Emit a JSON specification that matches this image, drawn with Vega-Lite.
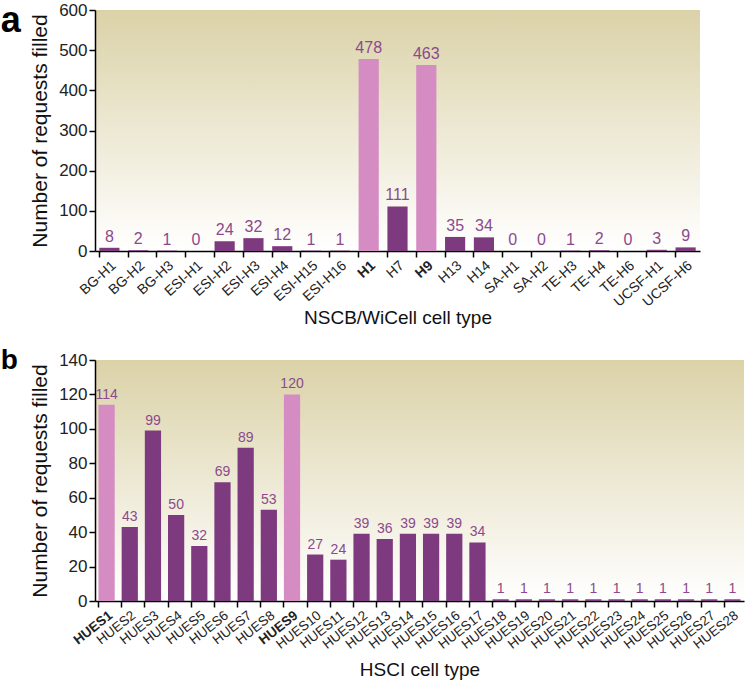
{
  "$schema": "https://vega.github.io/schema/vega-lite/v6.json",
  "padding": {"left": 0, "top": 1, "right": 4, "bottom": 1},
  "spacing": 19,
  "config": {
    "font": "Liberation Sans",
    "view": {"stroke": null},
    "axis": {"grid": false, "domainColor": "#000", "tickColor": "#000", "domainWidth": 1.5, "tickWidth": 1.5, "labelColor": "#222", "titleColor": "#111", "titleFontWeight": "normal"}
  },
  "datasets": {
    "nscb": [
      {"cell": "BG-H1", "n": 8}, {"cell": "BG-H2", "n": 2}, {"cell": "BG-H3", "n": 1},
      {"cell": "ESI-H1", "n": 0}, {"cell": "ESI-H2", "n": 24}, {"cell": "ESI-H3", "n": 32},
      {"cell": "ESI-H4", "n": 12}, {"cell": "ESI-H15", "n": 1}, {"cell": "ESI-H16", "n": 1},
      {"cell": "H1", "n": 478}, {"cell": "H7", "n": 111}, {"cell": "H9", "n": 463},
      {"cell": "H13", "n": 35}, {"cell": "H14", "n": 34}, {"cell": "SA-H1", "n": 0},
      {"cell": "SA-H2", "n": 0}, {"cell": "TE-H3", "n": 1}, {"cell": "TE-H4", "n": 2},
      {"cell": "TE-H6", "n": 0}, {"cell": "UCSF-H1", "n": 3}, {"cell": "UCSF-H6", "n": 9}
    ],
    "hsci": [
      {"cell": "HUES1", "n": 114}, {"cell": "HUES2", "n": 43}, {"cell": "HUES3", "n": 99},
      {"cell": "HUES4", "n": 50}, {"cell": "HUES5", "n": 32}, {"cell": "HUES6", "n": 69},
      {"cell": "HUES7", "n": 89}, {"cell": "HUES8", "n": 53}, {"cell": "HUES9", "n": 120},
      {"cell": "HUES10", "n": 27}, {"cell": "HUES11", "n": 24}, {"cell": "HUES12", "n": 39},
      {"cell": "HUES13", "n": 36}, {"cell": "HUES14", "n": 39}, {"cell": "HUES15", "n": 39},
      {"cell": "HUES16", "n": 39}, {"cell": "HUES17", "n": 34}, {"cell": "HUES18", "n": 1},
      {"cell": "HUES19", "n": 1}, {"cell": "HUES20", "n": 1}, {"cell": "HUES21", "n": 1},
      {"cell": "HUES22", "n": 1}, {"cell": "HUES23", "n": 1}, {"cell": "HUES24", "n": 1},
      {"cell": "HUES25", "n": 1}, {"cell": "HUES26", "n": 1}, {"cell": "HUES27", "n": 1},
      {"cell": "HUES28", "n": 1}
    ]
  },
  "vconcat": [
    {
      "width": 605,
      "height": 241,
      "title": {"text": "a", "anchor": "start", "frame": "bounds", "fontSize": 36, "fontWeight": "bold", "color": "#000", "dx": -29, "offset": -39},
      "view": {"fill": {"gradient": "linear", "x1": 0, "y1": 0, "x2": 0, "y2": 1, "stops": [{"offset": 0, "color": "#DBD2A8"}, {"offset": 1, "color": "#FFFFFF"}]}},
      "data": {"name": "nscb"},
      "encoding": {
        "x": {"field": "cell", "type": "nominal", "sort": null,
              "scale": {"paddingInner": 0.3, "paddingOuter": 0.15},
              "axis": {"title": "NSCB/WiCell cell type", "titleFontSize": 19, "titlePadding": 0, "labelAngle": -42, "labelFontSize": 14, "bandPosition": 0, "tickSize": 6, "labelPadding": 1,
                       "labelFontWeight": {"condition": {"test": "datum.value == 'H1' || datum.value == 'H9'", "value": "bold"}, "value": "normal"}}},
        "y": {"field": "n", "type": "quantitative",
              "scale": {"domain": [0, 600], "nice": false},
              "axis": {"title": "Number of requests filled", "titleFontSize": 21, "titlePadding": 8, "labelFontSize": 17, "values": [0, 100, 200, 300, 400, 500, 600], "tickSize": 6, "labelPadding": 2}}
      },
      "layer": [
        {"mark": {"type": "bar"},
         "encoding": {"color": {"condition": {"test": "datum.cell == 'H1' || datum.cell == 'H9'", "value": "#D48CC2"}, "value": "#7D3A7E"}}},
        {"mark": {"type": "text", "baseline": "bottom", "dy": -3, "fontSize": 16, "color": "#8B4A8B"},
         "encoding": {"text": {"field": "n", "type": "quantitative"}}}
      ]
    },
    {
      "width": 649,
      "height": 241,
      "title": {"text": "b", "anchor": "start", "frame": "bounds", "fontSize": 28, "fontWeight": "bold", "color": "#000", "dx": -29, "offset": -24},
      "view": {"fill": {"gradient": "linear", "x1": 0, "y1": 0, "x2": 0, "y2": 1, "stops": [{"offset": 0, "color": "#DBD2A8"}, {"offset": 1, "color": "#FFFFFF"}]}},
      "data": {"name": "hsci"},
      "encoding": {
        "x": {"field": "cell", "type": "nominal", "sort": null,
              "scale": {"paddingInner": 0.3, "paddingOuter": 0.15},
              "axis": {"title": "HSCI cell type", "titleFontSize": 19, "titlePadding": 10, "labelAngle": -38, "labelFontSize": 13.5, "bandPosition": 0, "tickSize": 6, "labelPadding": 1,
                       "labelFontWeight": {"condition": {"test": "datum.value == 'HUES1' || datum.value == 'HUES9'", "value": "bold"}, "value": "normal"}}},
        "y": {"field": "n", "type": "quantitative",
              "scale": {"domain": [0, 140], "nice": false},
              "axis": {"title": "Number of requests filled", "titleFontSize": 21, "titlePadding": 8, "labelFontSize": 17, "values": [0, 20, 40, 60, 80, 100, 120, 140], "tickSize": 6, "labelPadding": 2}}
      },
      "layer": [
        {"mark": {"type": "bar"},
         "encoding": {"color": {"condition": {"test": "datum.cell == 'HUES1' || datum.cell == 'HUES9'", "value": "#D48CC2"}, "value": "#7D3A7E"}}},
        {"mark": {"type": "text", "baseline": "bottom", "dy": -3, "fontSize": 14, "color": "#8B4A8B"},
         "encoding": {"text": {"field": "n", "type": "quantitative"}}}
      ]
    }
  ]
}
